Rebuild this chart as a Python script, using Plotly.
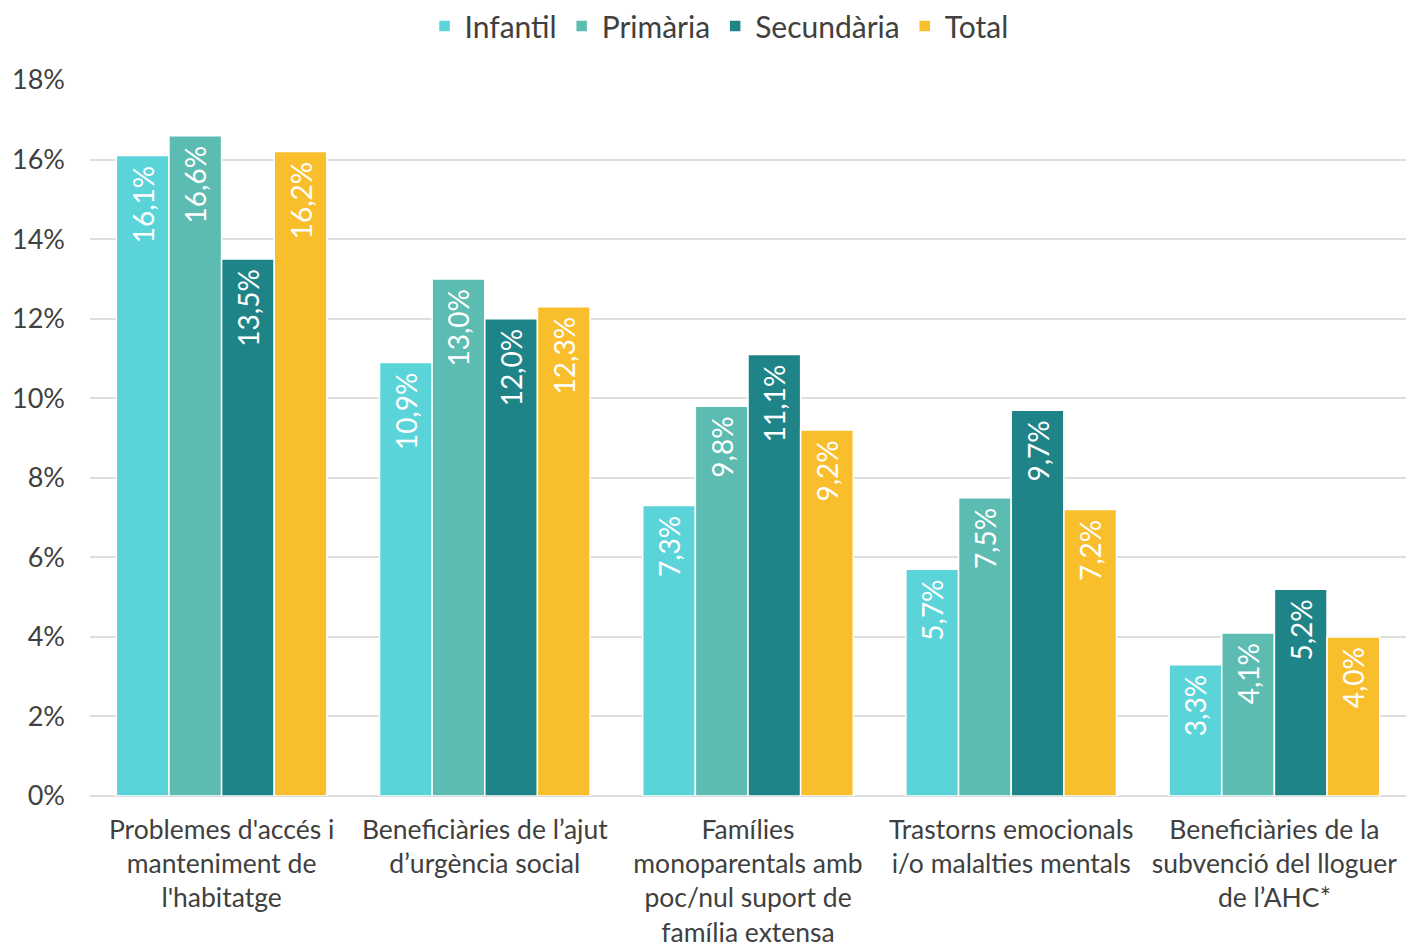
import plotly.graph_objects as go

categories = [
    "Problemes d'accés i<br>manteniment de<br>l'habitatge",
    "Beneficiàries de l’ajut<br>d’urgència social",
    "Famílies<br>monoparentals amb<br>poc/nul suport de<br>família extensa",
    "Trastorns emocionals<br>i/o malalties mentals",
    "Beneficiàries de la<br>subvenció del lloguer<br>de l’AHC*",
]
infantil = [16.1, 10.9, 7.3, 5.7, 3.3]
primaria = [16.6, 13.0, 9.8, 7.5, 4.1]
secundaria = [13.5, 12.0, 11.1, 9.7, 5.2]
total = [16.2, 12.3, 9.2, 7.2, 4.0]

series = [
    ("Infantil", infantil, "#5BD4D9"),
    ("Primària", primaria, "#5DBCB1"),
    ("Secundària", secundaria, "#1F8488"),
    ("Total", total, "#F9BE2C"),
]

fig = go.Figure()
for name, vals, color in series:
    fig.add_trace(go.Bar(
        x=categories, y=vals, name=name,
        marker=dict(color=color, line=dict(width=1.5, color="white")),
        texttemplate="%{y:.1f}%\u00a0",
        textposition="inside",
        insidetextanchor="end",
        textangle=-90,
        textfont=dict(color="white", size=28, family="Lato"),
    ))

fig.update_layout(
    barmode="group",
    bargap=0.2,
    bargroupgap=0.0,
    separators=",.",
    width=1406, height=944,
    margin=dict(l=90, r=0, t=80, b=148, autoexpand=False),
    paper_bgcolor="white", plot_bgcolor="white",
    font=dict(family="Lato", size=27, color="#404040"),
    legend=dict(orientation="h", x=0.478, xanchor="center", yref="container", y=1.0,
                yanchor="top", font=dict(size=30), traceorder="normal"),
    uniformtext=dict(minsize=28, mode="show"),
)
fig.update_yaxes(range=[0, 18], dtick=2, ticksuffix="%", gridcolor="#DEDEDE", gridwidth=2,
                 zeroline=True, zerolinecolor="#DEDEDE", zerolinewidth=2, automargin=False,
                 tickfont=dict(size=27, color="#404040"), ticks="", ticklabelstandoff=24)
fig.update_xaxes(tickfont=dict(size=26.5, color="#404040"), showline=False, tickangle=0,
                 automargin=False, ticklabelstandoff=15)

# page body has a default margin; drop it so the figure sits at the window's corner
fig.write_html("out.html", config={"displayModeBar": False},
               post_script="document.body.style.margin='0';")
